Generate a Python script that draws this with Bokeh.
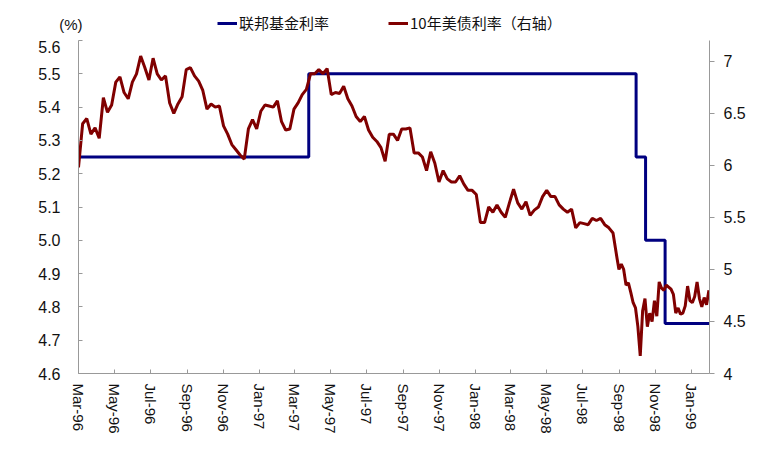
import pandas as pd
from bokeh.plotting import figure
from bokeh.layouts import column
from bokeh.models import (Range1d, LinearAxis, Legend, LegendItem, MonthsTicker,
                          DatetimeTickFormatter, NumeralTickFormatter, FixedTicker,
                          CustomJSTickFormatter)
from bokeh.embed import file_html
from bokeh.resources import INLINE

# Fed funds target rate (left axis), step changes
fed_dates = ["1996-03-01", "1997-03-25", "1998-09-29", "1998-10-15", "1998-11-17", "1999-01-31"]
fed_rate = [5.25, 5.50, 5.25, 5.00, 4.75, 4.75]

# 10Y Treasury yield (right axis): weekly observations from 1996-03-01
ust_weekly_start = "1996-03-01"
ust_weekly = [
    5.98, 6.40, 6.45, 6.30, 6.36, 6.26, 6.65, 6.51, 6.58, 6.80,
    6.85, 6.70, 6.64, 6.80, 6.88, 7.05, 6.94, 6.82, 7.03, 6.88,
    6.82, 6.86, 6.60, 6.50, 6.59, 6.66, 6.92, 6.94, 6.86, 6.81,
    6.72, 6.54, 6.59, 6.56, 6.57, 6.38, 6.30, 6.20, 6.15, 6.10,
    6.06, 6.35, 6.44, 6.35, 6.52, 6.58, 6.57, 6.56, 6.62, 6.42,
    6.34, 6.35, 6.54, 6.60, 6.68, 6.73, 6.88, 6.88, 6.92, 6.88,
    6.93, 6.68, 6.70, 6.69, 6.76, 6.64, 6.57, 6.47, 6.42, 6.47,
    6.34, 6.27, 6.23, 6.17, 6.04, 6.30, 6.30, 6.24, 6.35, 6.35,
    6.36, 6.12, 6.12, 6.08, 5.95, 6.13, 6.02, 5.84, 5.95, 5.87,
    5.84, 5.84, 5.90, 5.82, 5.76, 5.76, 5.72, 5.45, 5.45, 5.60,
    5.55, 5.62, 5.55, 5.50, 5.64, 5.77, 5.64, 5.58, 5.65, 5.52,
    5.57, 5.60, 5.70, 5.76, 5.70, 5.70, 5.62, 5.58, 5.55, 5.58,
    5.40, 5.45, 5.44, 5.43, 5.49, 5.47, 5.49, 5.43, 5.40, 5.35,
    5.10,
]
# then every 4 days from 1998-08-31 (volatile autumn 1998)
ust_fine_start = "1998-08-31"
ust_fine = [
    5.00, 5.05, 5.00, 4.85, 4.87, 4.78, 4.68, 4.63, 4.45, 4.17,
    4.60, 4.72, 4.45, 4.58, 4.50, 4.70, 4.55, 4.88, 4.82, 4.80,
    4.85, 4.83, 4.81, 4.76, 4.58, 4.63, 4.57, 4.58, 4.65, 4.84,
    4.70, 4.68, 4.74, 4.88, 4.72, 4.64, 4.73, 4.66, 4.80,
]

left_ticks = [4.6, 4.7, 4.8, 4.9, 5.0, 5.1, 5.2, 5.3, 5.4, 5.5, 5.6]
right_ticks = [4, 4.5, 5, 5.5, 6, 6.5, 7]
unit_text = "(%)"
legend_labels = ["联邦基金利率", "10年美债利率（右轴）"]

ust_dates = list(pd.date_range(ust_weekly_start, periods=len(ust_weekly), freq="7D")) + \
            list(pd.date_range(ust_fine_start, periods=len(ust_fine), freq="4D"))
ust_vals = ust_weekly + ust_fine
fed_x = pd.to_datetime(fed_dates)

AX = "#999999"
TXT = "#111111"
BLUE = "#000080"
RED = "#800000"
W = 755
NAN = float("nan")

# ---------- header strip: unit label (as a lone tick label) + legend ----------
top = figure(width=W, height=40, output_backend="svg", toolbar_location=None,
             x_range=Range1d(0, 1), y_range=Range1d(0, 1), x_axis_location=None,
             min_border_left=78, min_border_right=46, min_border_top=0, min_border_bottom=0)
top.outline_line_color = None
top.xgrid.grid_line_color = None
top.ygrid.grid_line_color = None
ua = top.yaxis[0]
ua.ticker = FixedTicker(ticks=[0.4])
ua.formatter = CustomJSTickFormatter(args=dict(t=unit_text), code="return t;")
ua.axis_line_color = None
ua.major_tick_line_color = None
ua.minor_tick_line_color = None
ua.major_tick_in = 0
ua.major_tick_out = 0
ua.major_label_standoff = -4
ua.major_label_text_font = "Liberation Sans"
ua.major_label_text_font_size = "15px"
ua.major_label_text_color = TXT

k_blue = top.line(x=[NAN], y=[NAN], line_color=BLUE, line_width=3)
k_red = top.line(x=[NAN], y=[NAN], line_color=RED, line_width=3)
legend = Legend(items=[LegendItem(label=legend_labels[0], renderers=[k_blue]),
                       LegendItem(label=legend_labels[1], renderers=[k_red])],
                orientation="horizontal", location=(139, 7), padding=0, spacing=59,
                label_standoff=2, glyph_width=20, border_line_color=None,
                background_fill_alpha=0, label_text_font="Noto Sans CJK SC",
                label_text_font_size="15px", label_text_color=TXT, margin=0)
top.add_layout(legend, "center")

# ---------- main chart ----------
p = figure(width=W, height=403, x_axis_type="datetime", output_backend="svg",
           toolbar_location=None,
           x_range=Range1d(pd.Timestamp("1996-03-01"), pd.Timestamp("1999-01-31")),
           y_range=Range1d(4.6, 5.6),
           min_border_left=78, min_border_right=46, min_border_top=0, min_border_bottom=70)
p.outline_line_color = None
p.xgrid.grid_line_color = None
p.ygrid.grid_line_color = None
p.extra_y_ranges = {"ust": Range1d(4, 7.2)}

p.step(fed_x, fed_rate, mode="after", line_color=BLUE, line_width=3)
p.line(ust_dates, ust_vals, line_color=RED, line_width=3, y_range_name="ust")

xa = p.xaxis[0]
xa.ticker = MonthsTicker(months=[0, 2, 4, 6, 8, 10])
xa.formatter = DatetimeTickFormatter(months="%b-%y", days="%b-%y", years="%b-%y")
xa.major_label_orientation = "vertical"
xa.major_tick_in = 4
xa.major_tick_out = 0
xa.minor_tick_line_color = None
xa.axis_line_color = AX
xa.major_tick_line_color = AX
xa.major_label_standoff = 10
xa.major_label_text_font = "Liberation Sans"
xa.major_label_text_font_size = "15px"
xa.major_label_text_color = TXT

ya = p.yaxis[0]
ya.ticker = FixedTicker(ticks=left_ticks)
ya.formatter = NumeralTickFormatter(format="0.0")
ya.major_tick_in = 4
ya.major_tick_out = 0
ya.minor_tick_line_color = None
ya.axis_line_color = AX
ya.major_tick_line_color = AX
ya.major_label_standoff = 18
ya.major_label_text_font = "Liberation Sans"
ya.major_label_text_font_size = "16px"
ya.major_label_text_color = TXT

ra = LinearAxis(y_range_name="ust", ticker=FixedTicker(ticks=right_ticks),
                formatter=CustomJSTickFormatter(code="return String(Math.round(tick*10)/10);"))
ra.major_tick_in = 0
ra.major_tick_out = 5
ra.minor_tick_line_color = None
ra.axis_line_color = AX
ra.major_tick_line_color = AX
ra.major_label_standoff = 9
ra.major_label_text_font = "Liberation Sans"
ra.major_label_text_font_size = "16px"
ra.major_label_text_color = TXT
p.add_layout(ra, "right")

layout = column(top, p, spacing=0)
open("out.html", "w").write(file_html(layout, INLINE))
